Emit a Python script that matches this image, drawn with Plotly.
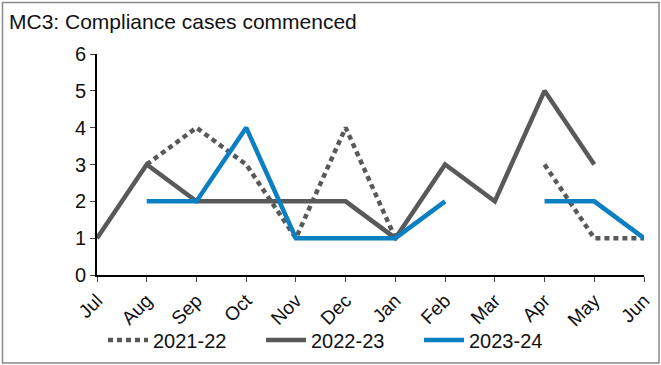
import plotly.graph_objects as go

# Months of the financial year (July to June)
months = ["Jul", "Aug", "Sep", "Oct", "Nov", "Dec", "Jan", "Feb", "Mar", "Apr", "May", "Jun"]

# Compliance cases commenced per month, by financial year (None = no data)
fy_2021_22 = [None, 3, 4, 3, 1, 4, 1, None, None, 3, 1, 1]
fy_2022_23 = [1, 3, 2, 2, 2, 2, 1, 3, 2, 5, 3, None]
fy_2023_24 = [None, 2, 2, 4, 1, 1, 1, 2, None, 2, 2, 1]

y_ticks = [0, 1, 2, 3, 4, 5, 6]

GREY = "#58595b"
BLUE = "#0a7fc2"
FONT = "Liberation Sans, Arial, sans-serif"

W, H = 661, 365
L, R, T, B = 97, 17, 54, 90

fig = go.Figure()
fig.add_trace(go.Scatter(
    x=months, y=fy_2021_22, name="2021-22", mode="lines",
    line=dict(color=GREY, width=4.5, dash="5px,4px"),
))
fig.add_trace(go.Scatter(
    x=months, y=fy_2022_23, name="2022-23", mode="lines",
    line=dict(color=GREY, width=4.5),
))
fig.add_trace(go.Scatter(
    x=months, y=fy_2023_24, name="2023-24", mode="lines",
    line=dict(color=BLUE, width=4.5),
))

pw = W - L - R
ph = H - T - B

# Outer frame around the whole chart, expressed in plot-area paper coordinates
fig.add_shape(
    type="rect", xref="paper", yref="paper",
    x0=(2.5 - L) / pw, x1=(659 - L) / pw,
    y0=(H - B - 363) / ph, y1=(H - B - 2.5) / ph,
    line=dict(color="#8a8a8a", width=1.5), layer="below",
)

fig.update_layout(
    width=W, height=H,
    margin=dict(l=L, r=R, t=T, b=B, autoexpand=False),
    paper_bgcolor="white", plot_bgcolor="white",
    font=dict(family=FONT, color="#111111", size=19),
    title=dict(
        text="MC3: Compliance cases commenced",
        font=dict(family=FONT, size=21, color="#111111"),
        xref="container", yref="container",
        x=9 / W, xanchor="left",
        y=1 - 22 / H, yanchor="middle",
    ),
    showlegend=True,
    legend=dict(
        orientation="h", xanchor="left", yanchor="middle",
        x=(103 - L) / pw, y=(H - B - 340) / ph,
        itemwidth=40,
        entrywidth=103, entrywidthmode="pixels",
        font=dict(family=FONT, size=20, color="#111111"),
        bgcolor="rgba(0,0,0,0)",
    ),
    xaxis=dict(
        type="category", range=[0, len(months) - 1], automargin=False,
        showgrid=False, zeroline=False,
        showline=True, linecolor="black", linewidth=2,
        ticks="outside", ticklen=5, tickcolor="#444444", tickwidth=1,
        tickangle=-45, tickfont=dict(family=FONT, size=19, color="#111111"),
    ),
    yaxis=dict(
        range=[0, 6], tickvals=y_ticks, automargin=False,
        showgrid=False, zeroline=False,
        showline=True, linecolor="black", linewidth=2,
        ticks="outside", ticklen=5, tickcolor="#444444", tickwidth=1,
        tickfont=dict(family=FONT, size=20, color="#111111"),
    ),
)

fig.write_html("out.html")
